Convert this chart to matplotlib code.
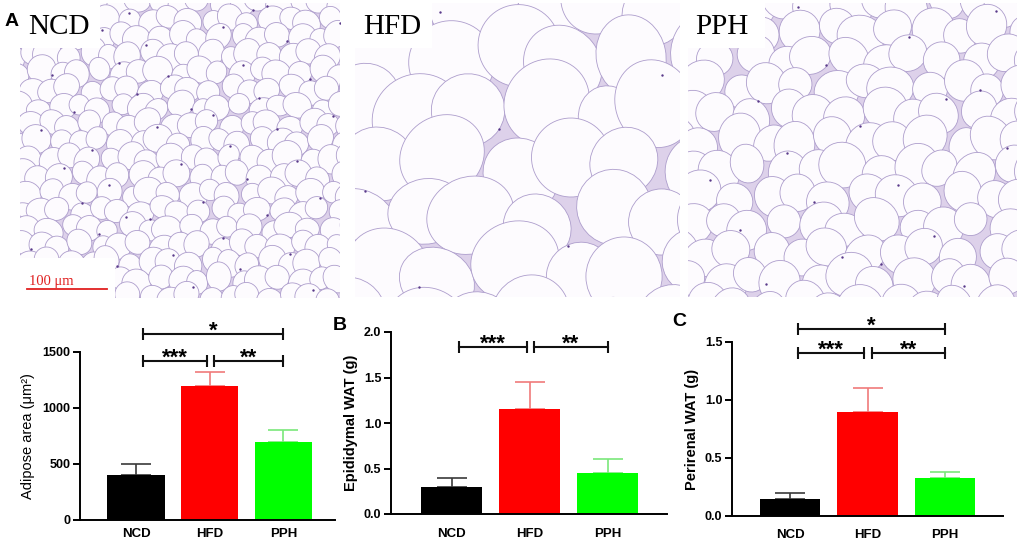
import matplotlib
matplotlib.use("Agg")
import matplotlib.pyplot as plt
from matplotlib.patches import Ellipse, Rectangle
import numpy as np

plt.rcParams['font.family'] = ['Liberation Sans', 'DejaVu Sans']

groups = ["NCD", "HFD", "PPH"]
bar_colors = ["#000000", "#ff0000", "#00ff00"]
err_colors = ["#3a3a3a", "#f07a7a", "#7ae87a"]

# panel A - adipocyte area
area_mean = [400, 1200, 700]
area_err = [100, 120, 100]
# panel B - epididymal WAT
epi_mean = [0.30, 1.15, 0.45]
epi_err = [0.10, 0.30, 0.15]
# panel C - perirenal WAT
peri_mean = [0.15, 0.90, 0.33]
peri_err = [0.05, 0.20, 0.05]

W, H = 1017, 545
fig = plt.figure(figsize=(W / 100, H / 100), dpi=100)


def px_axes(x0, y0, x1, y1):
    # pixel box (top-left origin) -> figure axes
    return fig.add_axes([x0 / W, 1 - y1 / H, (x1 - x0) / W, (y1 - y0) / H])


def tissue(ax, w, h, s, pa, pb):
    # rough stand-in for the H&E micrograph: packed pale cells
    ax.set_facecolor("#ddd1ea")
    ax.set_xlim(0, w)
    ax.set_ylim(h, 0)
    rows = int(h / (s * 0.866)) + 3
    cols = int(w / s) + 3
    nx, ny = [], []
    for j in range(-1, rows):
        for i in range(-1, cols):
            x = i * s + (j % 2) * s / 2 + 0.18 * s * np.sin(1.9 * i + 2.7 * j + pa)
            y = j * s * 0.866 + 0.18 * s * np.cos(2.3 * i - 1.7 * j + pb)
            r = 0.66 * s * (0.94 + 0.1 * np.sin(3.1 * i + 1.3 * j + pa))
            ax.add_patch(Ellipse((x, y), 2 * r * (1 + 0.1 * np.sin(i + pb)),
                                 2 * r * (1 - 0.08 * np.cos(j + pa)),
                                 angle=40 * np.sin(i * j + pa),
                                 fc="#fdfbfe", ec="#ad9dcc", lw=0.6))
            if np.sin(5.3 * i + 3.7 * j + pa) > 0.85:
                nx.append(x + 0.5 * s)
                ny.append(y + 0.3 * s)
    ax.scatter(nx, ny, s=3, color="#5a3a8a", zorder=5, linewidths=0)
    ax.set_xticks([])
    ax.set_yticks([])
    for sp in ax.spines.values():
        sp.set_visible(False)


img_boxes = [(20, 3, 340, 298, 20, 0.3, 1.1),
             (355, 3, 680, 297, 62, 2.0, 0.4),
             (688, 3, 1017, 297, 32, 4.1, 2.6)]
label_boxes = [(0, 100, 28), (0, 432, 363), (0, 765, 695)]
for (x0, y0, x1, y1, s, pa, pb), g, (lb0, lb1, tx) in zip(img_boxes, groups, label_boxes):
    ax = px_axes(x0, y0, x1, y1)
    tissue(ax, x1 - x0, y1 - y0, s, pa, pb)
    ax.add_patch(Rectangle((0, 0), lb1 - x0, 45, fc="white", ec="none", zorder=10))
    ax.text(tx - x0, 24, g, family="Liberation Serif", fontsize=21,
            va="center", ha="left", zorder=11)
    if g == "NCD":
        ax.add_patch(Rectangle((0, 255), 95, 45, fc="white", ec="none", zorder=10))
        ax.text(9, 278, "100 μm", family="Liberation Serif", fontsize=10.5,
                color="#e02020", va="center", ha="left", zorder=11)
        ax.plot([7, 87], [286, 286], color="#e02020", lw=1.3, zorder=11)

fig.text(5 / W, 1 - 21 / H, "A", fontsize=14, fontweight="bold", va="center")
fig.text(333 / W, 1 - 325 / H, "B", fontsize=14, fontweight="bold", va="center")
fig.text(672 / W, 1 - 321 / H, "C", fontsize=14, fontweight="bold", va="center")


def bar_panel(box, means, errs, ylim, yticks, ylabel, brackets, xlim, ywt, lpad, xpad):
    ax = px_axes(*box)
    x = np.arange(len(groups))
    ax.bar(x, means, width=0.78, color=bar_colors, zorder=2)
    for xi, m, e, c in zip(x, means, errs, err_colors):
        ax.errorbar(xi, m, yerr=[[0], [e]], fmt="none", ecolor=c,
                    elinewidth=1.2, capsize=11, capthick=1.2, zorder=1)
    ax.set_xlim(*xlim)
    ax.set_ylim(*ylim)
    ax.set_yticks(yticks)
    ax.set_xticks(x)
    ax.set_xticklabels(groups, fontweight="bold", fontsize=9.5)
    for t in ax.get_yticklabels():
        t.set_fontweight("bold")
        t.set_fontsize(9)
    ax.tick_params(axis="x", length=0, pad=xpad)
    ax.tick_params(axis="y", length=5, width=1.4, pad=2)
    ax.spines["top"].set_visible(False)
    ax.spines["right"].set_visible(False)
    ax.spines["left"].set_linewidth(1.4)
    ax.spines["bottom"].set_linewidth(1.4)
    ax.set_ylabel(ylabel, fontsize=10.5, fontweight=ywt, labelpad=lpad)
    for a, b, y, stars in brackets:
        ax.plot([a, b], [y, y], color="#111111", lw=1.5, marker="|", ms=9,
                mew=1.5, clip_on=False)
        ax.annotate(stars, ((a + b) / 2, y), xytext=(0, -2), textcoords="offset points",
                    ha="center", va="baseline", fontsize=16, fontweight="bold",
                    annotation_clip=False)
    return ax


bar_panel((80, 352, 335, 520), area_mean, area_err, (0, 1500), [0, 500, 1000, 1500],
          "Adipose area (μm²)",
          [(0.1, 0.96, 1420, "***"), (1.06, 2.0, 1420, "**"), (0.1, 2.0, 1661, "*")],
          (-0.76, 2.7), "normal", 5, 6)
bar_panel((391, 332, 667, 514), epi_mean, epi_err, (0, 2.0), [0.0, 0.5, 1.0, 1.5, 2.0],
          "Epididymal WAT (g)",
          [(0.09, 0.96, 1.835, "***"), (1.06, 2.0, 1.835, "**")],
          (-0.78, 2.76), "bold", 4, 10)
bar_panel((732, 342, 1003, 516), peri_mean, peri_err, (0, 1.5), [0.0, 0.5, 1.0, 1.5],
          "Perirenal WAT (g)",
          [(0.1, 0.96, 1.405, "***"), (1.06, 2.0, 1.405, "**"), (0.1, 2.0, 1.612, "*")],
          (-0.75, 2.75), "bold", 4, 9)

fig.savefig("out.png", dpi=100)
